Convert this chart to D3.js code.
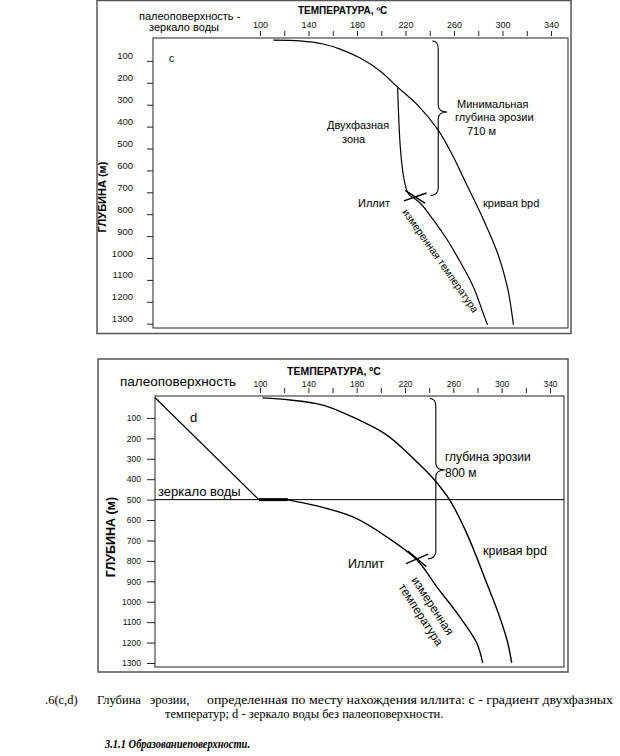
<!DOCTYPE html>
<html><head><meta charset="utf-8">
<script src="https://cdn.jsdelivr.net/npm/d3@7"></script>
<style>body{margin:0;background:#fff}svg{display:block}</style>
</head><body>
<svg id="fig" width="620" height="756"></svg>
<script>
// ---------- data ----------
const tempTicks = [100,120,140,160,180,200,220,240,260,280,300,320,340];
const tempLabels = [100,140,180,220,260,300,340];
const depthTicks = [100,200,300,400,500,600,700,800,900,1000,1100,1200,1300];

// panel c  [temperature °C, depth m]
const bpdC = [[111,5],[133,9],[152,23],[166,46],[182.6,87],[199,146],[213.5,220],[230,302],[247,416],[258.7,530],[269.4,653],[281.8,795],[295.9,977],[304,1132],[309,1305]];
const twoPhaseC = [[213.5,220],[215.7,493],[218.2,621],[221,690],[223,712]];
const measuredC = [[223,712],[232,749],[243,826],[254.5,918],[262.8,995],[276,1132],[284,1251],[287.6,1305]];
const illiteC = [228,721];
const braceC = {t:247, top:0, mid:333, bottom:710};

// panel d
const bpdD = [[102,2],[124.8,12],[152,37],[176.9,96],[205,184],[226.4,296],[243,394],[257,502],[271,664],[287.6,908],[298.3,1074],[305,1201],[308.3,1299]];
const hydroD = [[13,0],[99,500]];
const waterTableD = 500;
const flatD = [[99,500],[123,500]];
const measuredD = [[123,501],[147,531],[177,585],[205,683],[229.8,795],[246.3,927],[265.3,1074],[279.3,1201],[284.3,1299]];
const illiteD = [230,790];
const braceD = {t:245.5, top:0, mid:355, bottom:790};

// ---------- drawing ----------
const svg = d3.select("#fig");
const SANS = "'Liberation Sans', Arial, sans-serif";
const SERIF = "'Liberation Serif', 'Times New Roman', serif";

function brace(g, x, y0, ym, y1) {
  const p = d3.path();
  p.moveTo(x-6, y0);
  p.quadraticCurveTo(x, y0, x, y0+8);
  p.lineTo(x, ym-7);
  p.quadraticCurveTo(x, ym, x+9, ym);
  p.quadraticCurveTo(x, ym, x, ym+7);
  p.lineTo(x, y1-8);
  p.quadraticCurveTo(x, y1, x-8, y1);
  g.append("path").attr("d", p.toString()).attr("fill","none").attr("stroke","#000").attr("stroke-width",1.1);
}
function xMark(g, cx, cy, a1, a2, r) {
  [a1,a2].forEach(a => {
    const rad = a*Math.PI/180;
    g.append("line")
      .attr("x1", cx - r*Math.cos(rad)).attr("y1", cy - r*Math.sin(rad))
      .attr("x2", cx + r*Math.cos(rad)).attr("y2", cy + r*Math.sin(rad))
      .attr("stroke","#000").attr("stroke-width",1.4);
  });
}
function txt(g, x, y, s, size, opts={}) {
  const t = g.append("text").attr("x",x).attr("y",y).text(s)
    .attr("font-family", opts.family || SANS).attr("font-size", size)
    .attr("fill", opts.fill || "#000");
  if (opts.bold) t.attr("font-weight","bold");
  if (opts.italic) t.attr("font-style","italic");
  if (opts.anchor) t.attr("text-anchor", opts.anchor);
  if (opts.rotate !== undefined) t.attr("transform", `rotate(${opts.rotate},${x},${y})`);
  if (opts.len) t.attr("textLength", opts.len).attr("lengthAdjust","spacingAndGlyphs");
  return t;
}

const line = (xs, ys) => d3.line().x(d => xs(d[0])).y(d => ys(d[1])).curve(d3.curveCatmullRom.alpha(0.5));
const fmt = d3.format("d");

// ===== Panel c =====
{
  const g = svg.append("g");
  const box = {x0:153, y0:38, x1:568, y1:328};
  const x = d3.scaleLinear().domain([100,340]).range([260,551]);
  const y = d3.scaleLinear().domain([0,1300]).range([39,323.7]);

  g.append("rect").attr("x",97).attr("y",0.5).attr("width",474).attr("height",333)
    .attr("fill","none").attr("stroke","#555").attr("stroke-width",1.5);
  g.append("rect").attr("x",box.x0).attr("y",box.y0).attr("width",box.x1-box.x0).attr("height",box.y1-box.y0)
    .attr("fill","none").attr("stroke","#222").attr("stroke-width",1);

  const xa = g.append("g").attr("transform","translate(0,36)")
    .call(d3.axisTop(x).tickValues(tempTicks).tickSize(5).tickPadding(3)
      .tickFormat(d => tempLabels.includes(d) ? fmt(d) : ""));
  xa.select(".domain").remove();
  xa.selectAll("text").attr("font-family",SANS).attr("font-size",9).attr("fill","#111");
  xa.selectAll("line").attr("stroke","#222");

  const ya = g.append("g").attr("transform",`translate(${box.x0},0)`)
    .call(d3.axisLeft(y).tickValues(depthTicks).tickSize(6).tickPadding(14).tickFormat(fmt));
  ya.select(".domain").remove();
  ya.selectAll("text").attr("font-family",SANS).attr("font-size",9.5).attr("fill","#111").attr("dy","-2px");
  ya.selectAll("line").attr("stroke","#222");

  txt(g, 298, 14, "ТЕМПЕРАТУРА, ºC", 10, {bold:true});
  txt(g, 139, 20, "палеоповерхность -", 11);
  txt(g, 149, 31, "зеркало воды", 11);
  txt(g, 106, 197, "ГЛУБИНА (м)", 11, {bold:true, anchor:"middle", rotate:-90});
  txt(g, 169, 62, "c", 10);

  const lc = line(x,y);
  [bpdC, twoPhaseC, measuredC].forEach(s =>
    g.append("path").attr("d", lc(s)).attr("fill","none").attr("stroke","#000").attr("stroke-width",1.2));
  xMark(g, x(illiteC[0]), y(illiteC[1]), -19, 33, 12);
  brace(g, x(braceC.t), y(braceC.top)+2, y(braceC.mid), y(braceC.bottom)+1);

  txt(g, 457, 108, "Минимальная", 11);
  txt(g, 455, 121, "глубина эрозии", 11);
  txt(g, 467, 135, "710 м", 11);
  txt(g, 327, 129, "Двухфазная", 11);
  txt(g, 342, 143, "зона", 11);
  txt(g, 358, 207, "Иллит", 11);
  txt(g, 483, 207, "кривая bpd", 11);
  txt(g, 402, 212, "измеренная температура", 10.5, {rotate:55});
}

// ===== Panel d =====
{
  const g = svg.append("g");
  const box = {x0:155, y0:396, x1:564, y1:667};
  const x = d3.scaleLinear().domain([100,340]).range([260,550]);
  const y = d3.scaleLinear().domain([0,1300]).range([397.5,663]);

  g.append("rect").attr("x",98).attr("y",359).attr("width",470).attr("height",313)
    .attr("fill","none").attr("stroke","#555").attr("stroke-width",1.5);
  g.append("rect").attr("x",box.x0).attr("y",box.y0).attr("width",box.x1-box.x0).attr("height",box.y1-box.y0)
    .attr("fill","none").attr("stroke","#222").attr("stroke-width",1);

  const xa = g.append("g").attr("transform","translate(0,393)")
    .call(d3.axisTop(x).tickValues(tempTicks).tickSize(5).tickPadding(1)
      .tickFormat(d => tempLabels.includes(d) ? fmt(d) : ""));
  xa.select(".domain").remove();
  xa.selectAll("text").attr("font-family",SANS).attr("font-size",8.5).attr("fill","#111");
  xa.selectAll("line").attr("stroke","#222");

  const ya = g.append("g").attr("transform",`translate(${box.x0},0)`)
    .call(d3.axisLeft(y).tickValues(depthTicks).tickSize(8).tickPadding(6).tickFormat(fmt));
  ya.select(".domain").remove();
  ya.selectAll("text").attr("font-family",SANS).attr("font-size",8.5).attr("fill","#111");
  ya.selectAll("line").attr("stroke","#222");

  txt(g, 287, 375, "ТЕМПЕРАТУРА, ºC", 10.5, {bold:true});
  txt(g, 120, 386, "палеоповерхность", 13.5);
  txt(g, 115, 537, "ГЛУБИНА (м)", 12.5, {bold:true, anchor:"middle", rotate:-90});
  txt(g, 190, 422, "d", 13);
  txt(g, 158, 496, "зеркало воды", 13);

  g.append("line").attr("x1",box.x0).attr("x2",box.x1)
    .attr("y1",y(waterTableD)).attr("y2",y(waterTableD)).attr("stroke","#000").attr("stroke-width",1);

  const ld = d3.line().x(d => x(d[0])).y(d => y(d[1]));
  g.append("path").attr("d", ld(hydroD)).attr("fill","none").attr("stroke","#000").attr("stroke-width",1.2);
  g.append("path").attr("d", ld(flatD)).attr("fill","none").attr("stroke","#000").attr("stroke-width",3);
  const lc = line(x,y);
  [bpdD, measuredD].forEach(s =>
    g.append("path").attr("d", lc(s)).attr("fill","none").attr("stroke","#000").attr("stroke-width",1.4));
  xMark(g, x(illiteD[0]), y(illiteD[1]), -23, 40, 12);
  brace(g, x(braceD.t), y(braceD.top)+1, y(braceD.mid), y(braceD.bottom));

  txt(g, 445, 461, "глубина эрозии", 12);
  txt(g, 445, 477, "800 м", 12);
  txt(g, 483, 555, "кривая bpd", 12.5);
  txt(g, 348, 568, "Иллит", 12.5);
  txt(g, 411, 580, "измеренная", 12, {rotate:57});
  txt(g, 398, 587, "температура", 12, {rotate:57});
}

// ===== caption =====
{
  const g = svg.append("g");
  txt(g, 45, 704, ".6(c,d)", 12.5, {family:SERIF});
  txt(g, 97, 704, "Глубина", 12.5, {family:SERIF});
  txt(g, 150, 704, "эрозии,", 12.5, {family:SERIF});
  txt(g, 207, 704, "определенная по месту нахождения иллита: с - градиент двухфазных", 12.5, {family:SERIF, len:406});
  txt(g, 165, 718, "температур; d - зеркало воды без палеоповерхности.", 12.5, {family:SERIF});
  txt(g, 105, 748, "3.1.1 Образованиеповерхности.", 12, {family:SERIF, bold:true, italic:true, len:145});
}
</script>
</body></html>
